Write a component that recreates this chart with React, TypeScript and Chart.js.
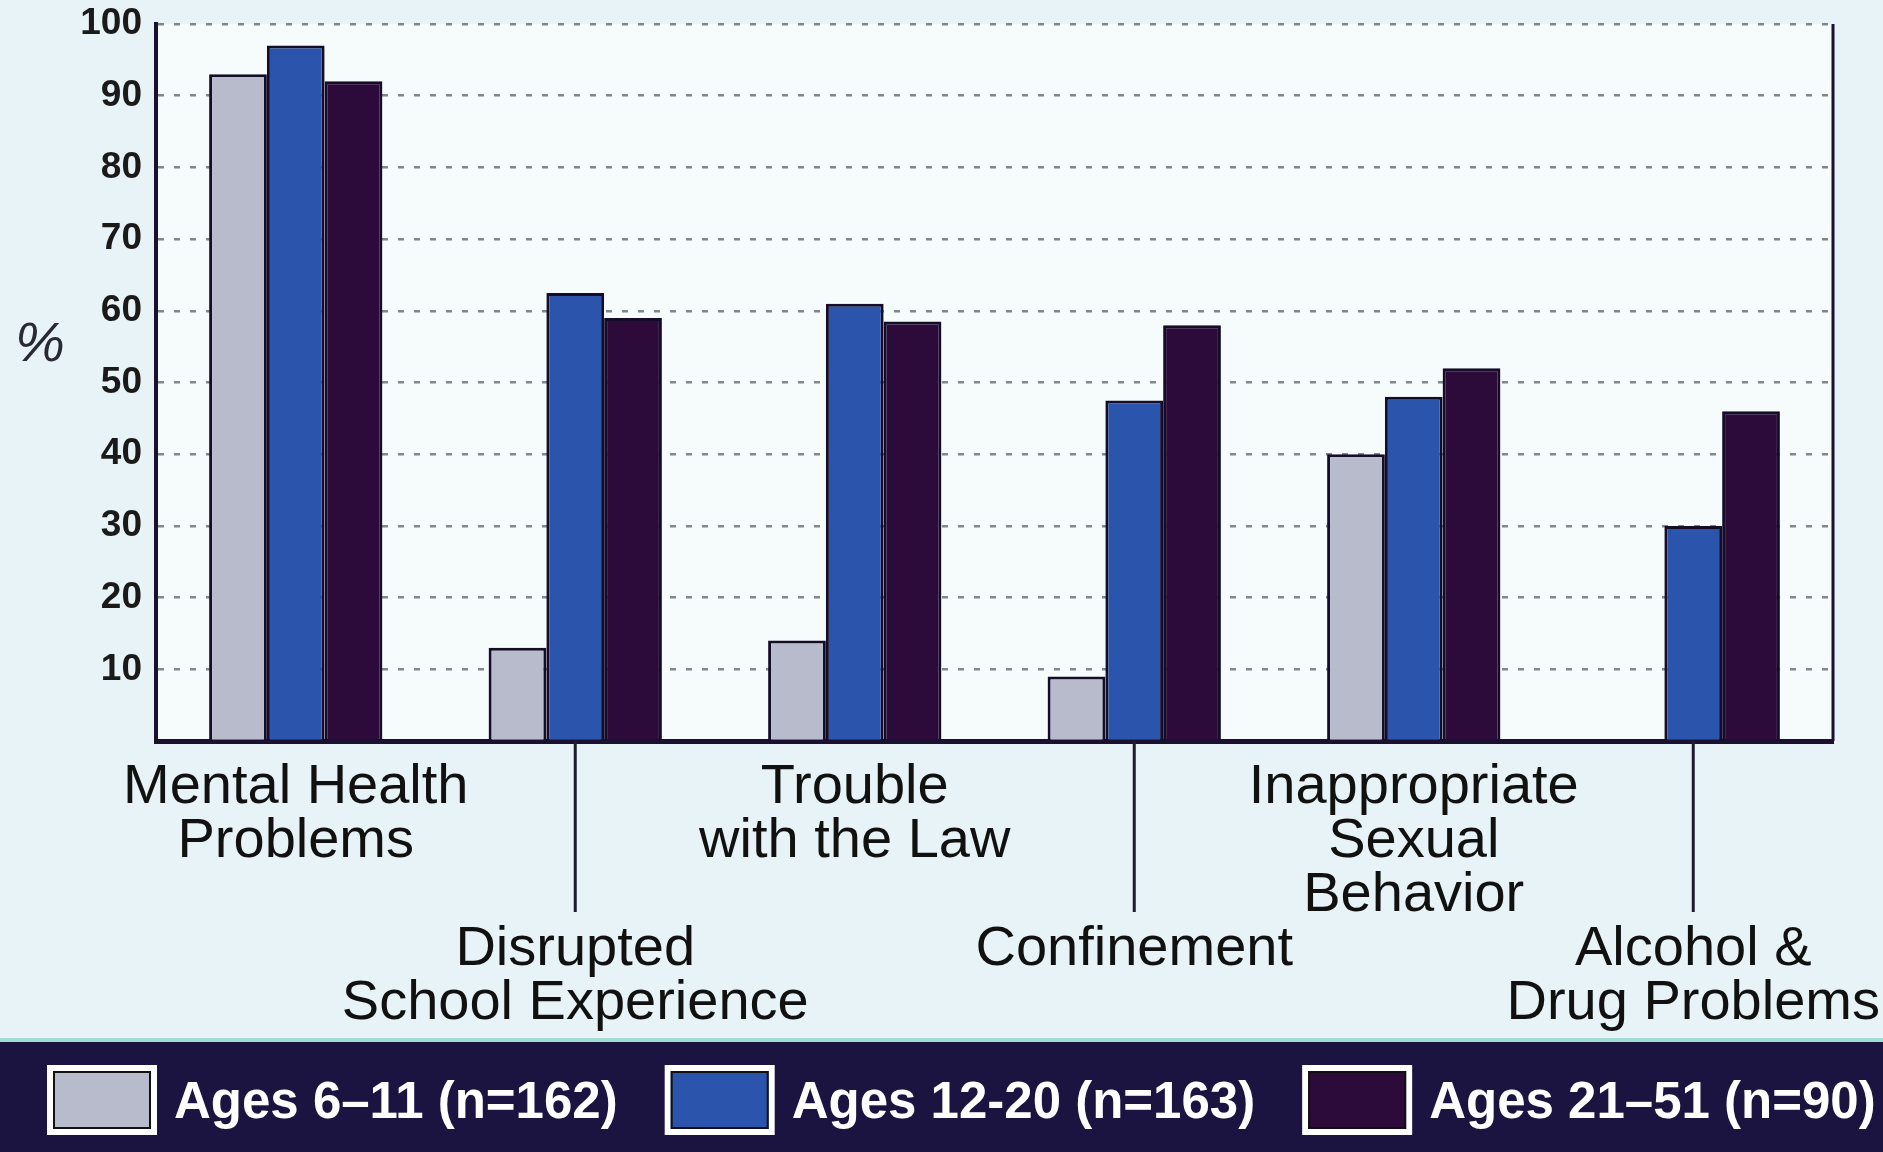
import React, { useEffect, useRef } from 'react';
import { Chart, registerables } from 'chart.js';

Chart.register(...registerables);

// ---- data ----
const categories: string[][] = [
  ['Mental Health', 'Problems'],
  ['Disrupted', 'School Experience'],
  ['Trouble', 'with the Law'],
  ['Confinement'],
  ['Inappropriate', 'Sexual', 'Behavior'],
  ['Alcohol &', 'Drug Problems'],
];
const seriesLabels = ['Ages 6–11 (n=162)', 'Ages 12-20 (n=163)', 'Ages 21–51 (n=90)'];
const ages6to11 = [93, 13, 14, 9, 40, 0];
const ages12to20 = [97, 62.5, 61, 47.5, 48, 30];
const ages21to51 = [92, 59, 58.5, 58, 52, 46];
const yTickValues = [10, 20, 30, 40, 50, 60, 70, 80, 90, 100];
const yAxisLabel = '%';

// ---- style ----
const W = 1883;
const H = 1152;
const colors = ['#b8bbcc', '#2b55ad', '#2c0b3a'];
const inkDark = '#1a1030';
const FONT = '"Liberation Sans", Arial, Helvetica, sans-serif';

const decorPlugin = {
  id: 'decor',
  beforeDraw(chart: any) {
    const { ctx, chartArea } = chart;
    ctx.save();
    ctx.fillStyle = '#e7f3f6';
    ctx.fillRect(0, 0, W, H);
    ctx.fillStyle = '#f6fbfc';
    ctx.fillRect(chartArea.left, chartArea.top, chartArea.right - chartArea.left, chartArea.bottom - chartArea.top);
    ctx.restore();
  },
  afterDraw(chart: any) {
    const { ctx, chartArea, scales } = chart;
    ctx.save();
    // right border of plot
    ctx.strokeStyle = inkDark;
    ctx.lineWidth = 3;
    ctx.beginPath();
    ctx.moveTo(chartArea.right, chartArea.top);
    ctx.lineTo(chartArea.right, chartArea.bottom);
    ctx.stroke();
    // separator lines under staggered (lower) labels
    ctx.lineWidth = 3;
    ctx.strokeStyle = '#1c1c2c';
    categories.forEach((_, i) => {
      if (i % 2 === 1) {
        const x = scales.x.getPixelForValue(i);
        ctx.beginPath();
        ctx.moveTo(x, chartArea.bottom);
        ctx.lineTo(x, 912);
        ctx.stroke();
      }
    });
    // % axis label
    ctx.fillStyle = '#2a2a35';
    ctx.font = `italic 56px ${FONT}`;
    ctx.textAlign = 'center';
    ctx.textBaseline = 'middle';
    ctx.fillText(yAxisLabel, 40, 345);

    // legend band
    ctx.fillStyle = '#1b1340';
    ctx.fillRect(0, 1042, W, H - 1042);
    ctx.fillStyle = '#a4ded3';
    ctx.fillRect(0, 1038, W, 4);
    ctx.font = `bold 51px ${FONT}`;
    ctx.textAlign = 'left';
    ctx.textBaseline = 'middle';
    let x = 50;
    chart.data.datasets.forEach((ds: any) => {
      ctx.fillStyle = ds.backgroundColor;
      ctx.fillRect(x, 1068, 104, 64);
      ctx.strokeStyle = '#ffffff';
      ctx.lineWidth = 6;
      ctx.strokeRect(x, 1068, 104, 64);
      ctx.strokeStyle = '#111';
      ctx.lineWidth = 2;
      ctx.strokeRect(x + 4, 1072, 96, 56);
      x += 104 + 20;
      ctx.fillStyle = '#ffffff';
      ctx.fillText(ds.label, x, 1104);
      x += ctx.measureText(ds.label).width + 50;
    });
    ctx.restore();
  },
};

export default function App() {
  const ref = useRef<HTMLCanvasElement>(null);
  useEffect(() => {
    document.body.style.margin = '0';
    const canvas = ref.current!;
    const chart = new Chart(canvas, {
      type: 'bar',
      data: {
        labels: categories as any,
        datasets: [ages6to11, ages12to20, ages21to51].map((d, i) => ({
          label: seriesLabels[i],
          data: d,
          backgroundColor: colors[i],
          borderColor: '#150c28',
          borderWidth: 3,
          categoryPercentage: 0.62,
          barPercentage: 1.0,
        })),
      },
      options: {
        responsive: false,
        animation: false,
        devicePixelRatio: 1,
        layout: { padding: { top: 24, right: 50, left: 0, bottom: 111 } },
        plugins: { legend: { display: false }, tooltip: { enabled: false } },
        scales: {
          x: {
            grid: { display: false, drawTicks: false },
            border: { display: true, color: inkDark, width: 5 },
            ticks: {
              autoSkip: false,
              maxRotation: 0,
              minRotation: 0,
              padding: 20,
              color: '#111111',
              font: { family: FONT, size: 56, lineHeight: '54px' } as any,
              callback: (_v: any, i: number) =>
                i % 2 === 1 ? ['', '', '', ...categories[i]] : categories[i],
            },
            afterFit: (s: any) => {
              s.height = 300;
              s.paddingLeft = 0;
              s.paddingRight = 0;
            },
          },
          y: {
            min: 0,
            max: 100,
            afterBuildTicks: (s: any) => {
              s.ticks = [0, ...yTickValues].map((v) => ({ value: v }));
            },
            grid: {
              drawTicks: false,
              color: (c: any) => (c.tick && c.tick.value === 0 ? 'rgba(0,0,0,0)' : '#80868f'),
              lineWidth: 2.5,
            },
            border: { display: true, color: inkDark, width: 4, dash: [6, 10] },
            ticks: {
              padding: 14,
              color: '#1a1a1a',
              font: { family: FONT, size: 37, weight: 'bold' },
              callback: (v: any) => (v === 0 ? '' : String(v)),
            },
            afterFit: (s: any) => {
              s.width = 156;
              s.paddingTop = 0;
              s.paddingBottom = 0;
            },
          },
        },
      },
      plugins: [decorPlugin],
    });
    return () => chart.destroy();
  }, []);
  return (
    <div style={{ position: 'absolute', left: 0, top: 0, width: W, height: H }}>
      <canvas ref={ref} width={W} height={H} style={{ display: 'block', width: W, height: H }} />
    </div>
  );
}
